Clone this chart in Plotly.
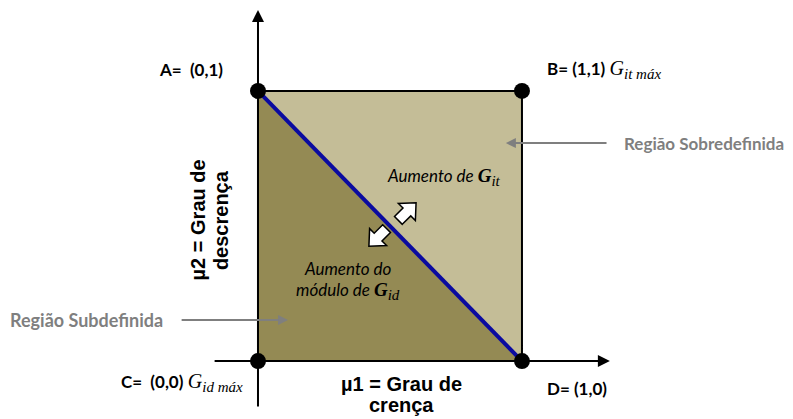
import math
import plotly.graph_objects as go

# Corner points of the unit square (μ1, μ2)
corner_names = ["A", "B", "C", "D"]
corner_x = [0, 1, 0, 1]
corner_y = [1, 1, 0, 0]

# Regions (triangles)
upper_x = [0, 1, 1, 0]
upper_y = [1, 1, 0, 1]
lower_x = [0, 0, 1, 0]
lower_y = [1, 0, 0, 1]

# Boundary line A -> D
line_x = [0, 1]
line_y = [1, 0]

# direction arrows (anchor points and angles in degrees)
dir_x = [0.564, 0.455]
dir_y = [0.552, 0.459]
dir_angle = [45, 225]

DARK = "#948A54"
LIGHT = "#C4BD97"
GRAY = "#7F7F7F"
SANS = "Lato, Open Sans, sans-serif"
SERIF = "Liberation Serif, DejaVu Serif, serif"
AX = "Liberation Sans, Arial, sans-serif"

fig = go.Figure()
fig.add_trace(go.Scatter(x=upper_x, y=upper_y, fill="toself", fillcolor=LIGHT,
                         mode="lines", line=dict(color="black", width=2), hoverinfo="skip"))
fig.add_trace(go.Scatter(x=lower_x, y=lower_y, fill="toself", fillcolor=DARK,
                         mode="lines", line=dict(color="black", width=2), hoverinfo="skip"))
fig.add_trace(go.Scatter(x=line_x, y=line_y, mode="lines",
                         line=dict(color="#0A0AA0", width=4), hoverinfo="skip"))

# axes arrows
fig.add_annotation(x=1.333, y=0, ax=-0.17, ay=0, xref="x", yref="y", axref="x", ayref="y",
                   showarrow=True, arrowhead=2, arrowsize=1.2, arrowwidth=2, arrowcolor="black", text="")
fig.add_annotation(x=0, y=1.30, ax=0, ay=-0.174, xref="x", yref="y", axref="x", ayref="y",
                   showarrow=True, arrowhead=2, arrowsize=1.2, arrowwidth=2, arrowcolor="black", text="")

fig.add_trace(go.Scatter(x=corner_x, y=corner_y, mode="markers",
                         marker=dict(color="black", size=16), hoverinfo="skip"))

# fat hollow arrows, drawn in pixel size around data anchors
base = [(-12, -5.5), (0, -5.5), (0, -12), (13, 0), (0, 12), (0, 5.5), (-12, 5.5)]
for ax_, ay_, ang in zip(dir_x, dir_y, dir_angle):
    a = math.radians(ang)
    pts = [(px * math.cos(a) - py * math.sin(a), px * math.sin(a) + py * math.cos(a)) for px, py in base]
    path = "M " + " L ".join(f"{p[0]:.2f},{p[1]:.2f}" for p in pts) + " Z"
    fig.add_shape(type="path", xref="x", yref="y", xsizemode="pixel", ysizemode="pixel",
                  xanchor=ax_, yanchor=ay_, path=path, fillcolor="white",
                  line=dict(color="black", width=1.5))

# region arrows
fig.add_annotation(x=0.939, y=0.807, ax=1.326, ay=0.807, xref="x", yref="y", axref="x", ayref="y",
                   showarrow=True, arrowhead=2, arrowsize=1, arrowwidth=2, arrowcolor=GRAY, text="")
fig.add_annotation(x=0.114, y=0.152, ax=-0.295, ay=0.152, xref="x", yref="y", axref="x", ayref="y",
                   showarrow=True, arrowhead=2, arrowsize=1, arrowwidth=2, arrowcolor=GRAY, text="")

def label(x, y, text, xanchor="center", size=17, color="black", family=SANS, angle=0):
    fig.add_annotation(x=x, y=y, text=text, showarrow=False, xanchor=xanchor, yanchor="middle",
                       textangle=angle, font=dict(family=family, size=size, color=color))

def mx(s, size):
    return f'<span style="font-family:{SERIF};font-size:{size}px"><i>{s}</i></span>'

label(-0.254, 1.078, "<b>A=  (0,1)</b>")
label(1.087, 1.078, "<b>B= (1,1)</b> " + mx("G", 20) + "<sub>" + mx("it máx", 15) + "</sub>", xanchor="left")
label(-0.05, -0.081, "<b>C=  (0,0)</b> " + mx("G", 20) + "<sub>" + mx("id máx", 15) + "</sub>", xanchor="right")
label(1.087, -0.10, "<b>D= (1,0)</b>", xanchor="left")
label(1.379, 0.807, "<b>Região Sobredefinida</b>", xanchor="left", size=17, color=GRAY)
label(-0.352, 0.152, "<b>Região Subdefinida</b>", xanchor="right", size=18, color=GRAY)
label(0.705, 0.681, "<i>Aumento de </i>" + mx("<b>G</b>", 19) + "<sub>" + mx("it", 15) + "</sub>", size=17)
label(0.34, 0.343, "<i>Aumento do</i>", size=17)
label(0.34, 0.258, "<i>módulo de </i>" + mx("<b>G</b>", 19) + "<sub>" + mx("id", 15) + "</sub>", size=17)
label(-0.226, 0.522, "<b>µ2 = Grau de</b>", size=20, family=AX, angle=-90)
label(-0.140, 0.522, "<b>descrença</b>", size=20, family=AX, angle=-90)
label(0.545, -0.085, "<b>µ1 = Grau de</b>", size=20, family=AX)
label(0.545, -0.162, "<b>crença</b>", size=20, family=AX)

fig.update_layout(
    width=793, height=419, margin=dict(l=0, r=0, t=0, b=0),
    plot_bgcolor="white", paper_bgcolor="white", showlegend=False,
    xaxis=dict(range=[-0.947, 2.057], visible=False, fixedrange=True),
    yaxis=dict(range=[-0.244, 1.307], visible=False, fixedrange=True),
)
fig.write_html("out.html")
